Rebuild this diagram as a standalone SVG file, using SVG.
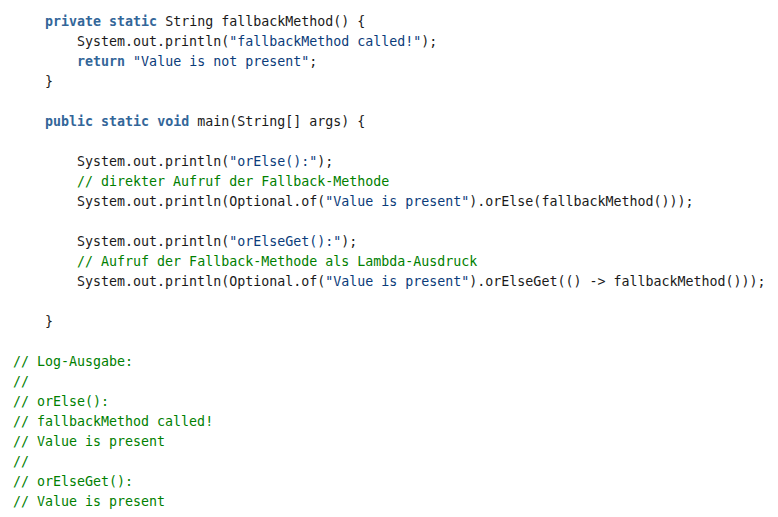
<svg xmlns="http://www.w3.org/2000/svg" width="778" height="517" viewBox="0 0 778 517">
<style>
text{font-family:"DejaVu Sans Mono",monospace;font-size:13.3px;fill:#1a1a1a;white-space:pre}
.k{fill:#336699;font-weight:bold}
.s{fill:#0b3c7a}
.c{fill:#008000}
</style>
<rect width="778" height="517" fill="#fff"/>
<g id="code" xml:space="preserve">
<text x="13" y="26">    <tspan class="k">private</tspan> <tspan class="k">static</tspan> String fallbackMethod() {</text>
<text x="13" y="46">        System.out.println(<tspan class="s">"fallbackMethod called!"</tspan>);</text>
<text x="13" y="66">        <tspan class="k">return</tspan> <tspan class="s">"Value is not present"</tspan>;</text>
<text x="13" y="86">    }</text>
<text x="13" y="126">    <tspan class="k">public</tspan> <tspan class="k">static</tspan> <tspan class="k">void</tspan> main(String[] args) {</text>
<text x="13" y="166">        System.out.println(<tspan class="s">"orElse():"</tspan>);</text>
<text x="13" y="186">        <tspan class="c">// direkter Aufruf der Fallback-Methode</tspan></text>
<text x="13" y="206">        System.out.println(Optional.of(<tspan class="s">"Value is present"</tspan>).orElse(fallbackMethod()));</text>
<text x="13" y="246">        System.out.println(<tspan class="s">"orElseGet():"</tspan>);</text>
<text x="13" y="266">        <tspan class="c">// Aufruf der Fallback-Methode als Lambda-Ausdruck</tspan></text>
<text x="13" y="286">        System.out.println(Optional.of(<tspan class="s">"Value is present"</tspan>).orElseGet(() -&gt; fallbackMethod()));</text>
<text x="13" y="326">    }</text>
<text x="13" y="366" class="c">// Log-Ausgabe:</text>
<text x="13" y="386" class="c">//</text>
<text x="13" y="406" class="c">// orElse():</text>
<text x="13" y="426" class="c">// fallbackMethod called!</text>
<text x="13" y="446" class="c">// Value is present</text>
<text x="13" y="466" class="c">//</text>
<text x="13" y="486" class="c">// orElseGet():</text>
<text x="13" y="506" class="c">// Value is present</text>
</g>
</svg>
